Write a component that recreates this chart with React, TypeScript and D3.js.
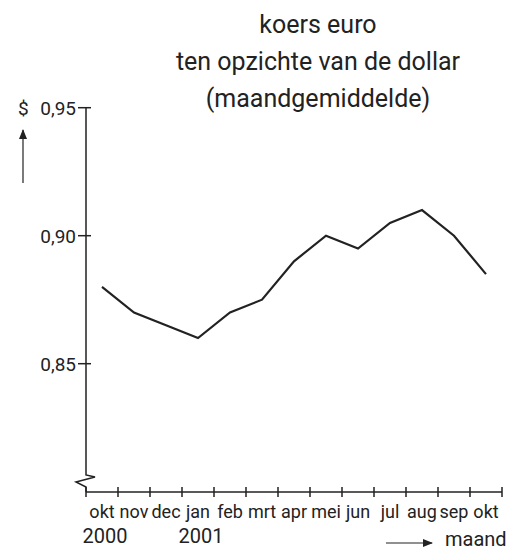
import React from 'react';
import * as d3 from 'd3';

// koers euro t.o.v. dollar, maandgemiddelde okt 2000 - okt 2001
const months = ['okt', 'nov', 'dec', 'jan', 'feb', 'mrt', 'apr', 'mei', 'jun', 'jul', 'aug', 'sep', 'okt'];
const years = ['2000', '', '', '2001', '', '', '', '', '', '', '', '', ''];
const koers = [0.88, 0.87, 0.865, 0.86, 0.87, 0.875, 0.89, 0.9, 0.895, 0.905, 0.91, 0.9, 0.885];
const yTicks = [0.85, 0.9, 0.95];
const titleLines = ['koers euro', 'ten opzichte van de dollar', '(maandgemiddelde)'];

const W = 521;
const H = 548;
const axisX = 86;
const axisY = 492;
const ink = '#222';
const font = "'Roboto', sans-serif";

const fmt = (v: number) => d3.format('.2f')(v).replace('.', ',');

const App = () => {
  const x = d3
    .scaleBand<number>()
    .domain(months.map((_, i) => i))
    .range([axisX, 502])
    .padding(0);
  const y = d3.scaleLinear().domain([0.85, 0.95]).range([363.7, 107.7]);

  const line = d3
    .line<number>()
    .x((_, i) => x(i)! + x.bandwidth() / 2)
    .y((d) => y(d));

  const edges = months.map((_, i) => x(i)!).concat([x.range()[1]]);

  // y-as met onderbreking onderaan
  const yAxisPath = `M${axisX},${y(0.95)} V475 L95,477 L76,482 L${axisX},487 V${axisY}`;

  return (
    <svg width={W} height={H} style={{ position: 'absolute', left: 0, top: 0 }}>
      <defs>
        <marker id="arr" viewBox="0 0 10 10" refX="9" refY="5" markerWidth="10" markerHeight="10" markerUnits="userSpaceOnUse" orient="auto">
          <path d="M0,1 L10,5 L0,9 Z" fill={ink} />
        </marker>
      </defs>

      {titleLines.map((t, i) => (
        <text key={i} x={318} y={33 + i * 37} textAnchor="middle" fontFamily={font} fontSize={25} fill={ink}>
          {t}
        </text>
      ))}

      {/* y-as */}
      <path d={yAxisPath} fill="none" stroke={ink} strokeWidth={1.5} />
      {yTicks.map((t) => (
        <g key={t}>
          <line x1={78} x2={91} y1={y(t)} y2={y(t)} stroke={ink} strokeWidth={1.5} />
          <text x={76} y={y(t) + 7.3} textAnchor="end" fontFamily={font} fontSize={19} fill={ink}>
            {fmt(t)}
          </text>
        </g>
      ))}
      <text x={18} y={115} fontFamily={font} fontSize={19} fill={ink}>$</text>
      <line x1={23} x2={23} y1={183} y2={130} stroke={ink} strokeWidth={1.2} markerEnd="url(#arr)" />

      {/* x-as */}
      <line x1={axisX} x2={502} y1={axisY} y2={axisY} stroke={ink} strokeWidth={1.5} />
      {edges.map((e, i) => (
        <line key={i} x1={e} x2={e} y1={axisY - 5} y2={axisY + 5} stroke={ink} strokeWidth={1.5} />
      ))}
      {months.map((m, i) => (
        <text key={i} x={x(i)! + x.bandwidth() / 2} y={518} textAnchor="middle" fontFamily={font} fontSize={18} fill={ink}>
          {m}
        </text>
      ))}
      {years.map((yr, i) =>
        yr ? (
          <text key={i} x={x(i)! + x.bandwidth() / 2 + 3} y={543} textAnchor="middle" fontFamily={font} fontSize={20} fill={ink}>
            {yr}
          </text>
        ) : null
      )}
      <line x1={386} x2={432} y1={543} y2={543} stroke={ink} strokeWidth={1.2} markerEnd="url(#arr)" />
      <text x={445} y={546} fontFamily={font} fontSize={20} fill={ink}>maand</text>

      {/* koerslijn */}
      <path d={line(koers)!} fill="none" stroke={ink} strokeWidth={2.2} strokeLinejoin="miter" />
    </svg>
  );
};

export default App;
